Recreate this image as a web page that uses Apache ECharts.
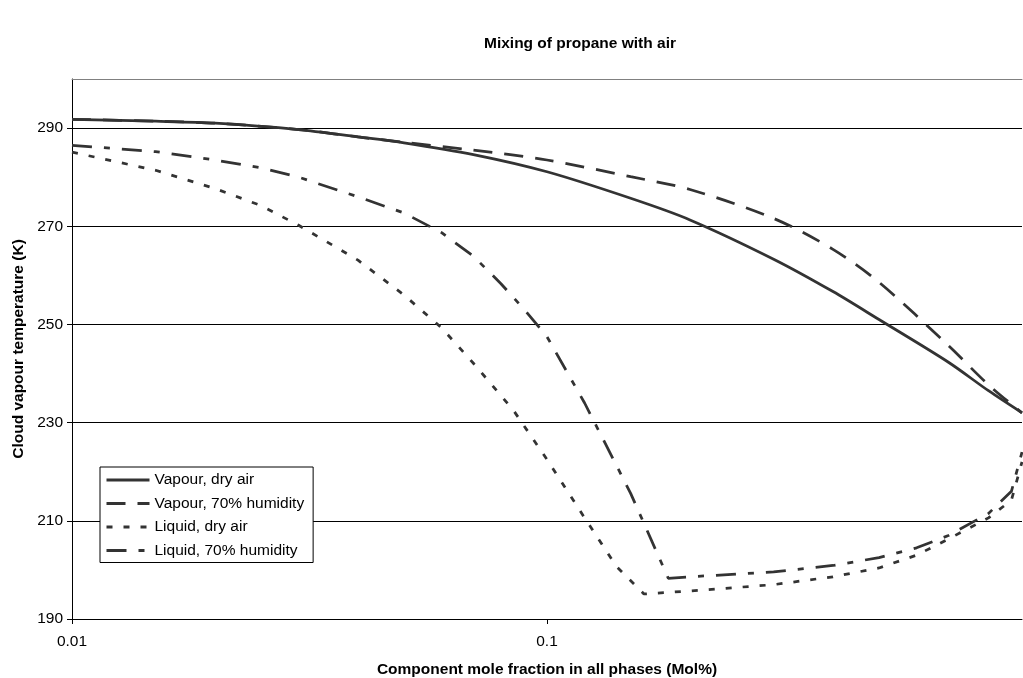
<!DOCTYPE html>
<html>
<head>
<meta charset="utf-8">
<script src="https://cdn.jsdelivr.net/npm/echarts@6/dist/echarts.min.js"></script>
<style>html,body{margin:0;padding:0;background:#fff}#c{width:1023px;height:678px}</style>
</head>
<body>
<div id="c"></div>
<script>
const titleText = "Mixing of propane with air";
const xAxisName = "Component mole fraction in all phases (Mol%)";
const yAxisName = "Cloud vapour temperature (K)";
const seriesNames = ["Vapour, dry air", "Vapour, 70% humidity", "Liquid, dry air", "Liquid, 70% humidity"];

const vapourX        = [0.01, 0.015, 0.02, 0.03, 0.04, 0.05, 0.07, 0.1, 0.15, 0.2, 0.3, 0.4, 0.5, 0.7, 0.85, 1.0];
const vapourDryY     = [291.8, 291.4, 291.0, 289.7, 288.2, 287.0, 284.6, 281.1, 275.7, 271.3, 263.3, 256.7, 251.0, 242.3, 236.5, 232.0];
const vapourHumidY   = [291.8, 291.4, 291.0, 289.7, 288.2, 287.1, 285.5, 283.5, 280.1, 277.5, 271.6, 265.3, 258.6, 245.7, 237.7, 232.0];

const liquidDryX     = [0.01, 0.015, 0.02, 0.025, 0.03, 0.04, 0.05, 0.06, 0.07, 0.085, 0.1, 0.12, 0.14, 0.16, 0.2, 0.3, 0.4, 0.5, 0.6, 0.7, 0.85, 0.95, 1.0];
const liquidDryY     = [285.1, 281.4, 277.7, 274.2, 270.2, 263.1, 256.0, 249.3, 242.1, 232.5, 222.5, 210.6, 200.7, 195.1, 195.7, 197.0, 198.6, 200.4, 203.0, 206.3, 210.6, 214.2, 222.0];

const liquidHumidX   = [0.01, 0.015, 0.02, 0.025, 0.03, 0.04, 0.05, 0.06, 0.07, 0.08, 0.09, 0.1, 0.12, 0.15, 0.18, 0.2, 0.3, 0.4, 0.5, 0.6, 0.7, 0.85, 0.95, 1.0];
const liquidHumidY   = [286.5, 285.2, 283.5, 281.9, 280.0, 276.0, 272.7, 268.7, 263.9, 258.3, 252.8, 247.5, 234.0, 215.6, 198.3, 198.6, 199.6, 200.9, 202.5, 204.5, 207.0, 211.5, 216.0, 224.0];

const yTicks = [190, 210, 230, 250, 270, 290];
const xTicks = [0.01, 0.1];

function zip(xs, ys) { return xs.map((x, i) => [x, ys[i]]); }

const lineColor = '#333333';
const font = 'Liberation Sans, Arial, sans-serif';

const chart = echarts.init(document.getElementById('c'), null, {renderer: 'canvas'});
chart.setOption({
  backgroundColor: '#ffffff',
  animation: false,
  title: {
    text: titleText,
    left: 575, top: 31, textAlign: 'center',
    textStyle: {fontFamily: font, fontSize: 15.5, fontWeight: 'bold', color: '#000'}
  },
  grid: {left: 72, right: 1, top: 79, bottom: 59, containLabel: false, outerBoundsMode: 'none'},
  legend: {
    orient: 'vertical',
    left: 100, top: 467,
    width: 214,
    itemWidth: 43, itemHeight: 14, itemGap: 7.5,
    padding: [5, 9, 4, 5],
    borderColor: '#000', borderWidth: 1,
    backgroundColor: '#fff',
    itemStyle: {opacity: 0},
    lineStyle: {width: 3},
    textStyle: {fontFamily: font, fontSize: 15.5, color: '#000', lineHeight: 14},
    data: seriesNames
  },
  xAxis: [{
    type: 'log', logBase: 10, min: 0.01, max: 1,
    name: xAxisName, nameLocation: 'middle', nameGap: 43,
    nameTextStyle: {fontFamily: font, fontSize: 15.5, fontWeight: 'bold', color: '#000'},
    axisLine: {show: true, lineStyle: {color: '#000', width: 1}},
    axisTick: {show: true, length: 5, inside: false, lineStyle: {color: '#000'},
      customValues: xTicks},
    axisLabel: {
      fontFamily: font, fontSize: 15.5, color: '#000', margin: 15,
      customValues: xTicks,
      formatter: function (v) { return xTicks.some(t => Math.abs(t - v) < 1e-9) ? String(Math.round(v * 100) / 100) : ''; }
    },
    splitLine: {show: false}, minorTick: {show: false}
  }, {
    type: 'log', logBase: 10, min: 0.01, max: 1, position: 'top',
    axisLine: {show: true, lineStyle: {color: '#808080', width: 1}},
    axisTick: {show: false}, axisLabel: {show: false}, splitLine: {show: false}
  }],
  yAxis: {
    type: 'value', min: 190, max: 300, interval: 20,
    name: yAxisName, nameLocation: 'middle', nameGap: 41, nameRotate: 90,
    nameTextStyle: {fontFamily: font, fontSize: 15.5, fontWeight: 'bold', color: '#000'},
    axisLine: {show: true, lineStyle: {color: '#000', width: 1}},
    axisTick: {show: true, length: 5, lineStyle: {color: '#000'}, customValues: yTicks},
    axisLabel: {fontFamily: font, fontSize: 15.5, color: '#000', margin: 9, customValues: yTicks,
      formatter: function (v) { return yTicks.indexOf(v) >= 0 ? String(v) : ''; }},
    splitLine: {show: true, lineStyle: {color: '#000', width: 1}},
    customValues: yTicks
  },
  series: [
    {name: seriesNames[0], type: 'line', xAxisIndex: 0, data: zip(vapourX, vapourDryY),
     symbol: 'none', smooth: 0.3, lineStyle: {color: lineColor, width: 2.75, type: 'solid'}, itemStyle: {color: lineColor}},
    {name: seriesNames[1], type: 'line', xAxisIndex: 0, data: zip(vapourX, vapourHumidY),
     symbol: 'none', smooth: 0.3, lineStyle: {color: lineColor, width: 2.75, type: [19, 12]}, itemStyle: {color: lineColor}},
    {name: seriesNames[2], type: 'line', xAxisIndex: 0, data: zip(liquidDryX, liquidDryY),
     symbol: 'none', smooth: false, lineStyle: {color: lineColor, width: 2.75, type: [6, 11]}, itemStyle: {color: lineColor}},
    {name: seriesNames[3], type: 'line', xAxisIndex: 0, data: zip(liquidHumidX, liquidHumidY),
     symbol: 'none', smooth: false, lineStyle: {color: lineColor, width: 2.75, type: [20, 12, 6, 12]}, itemStyle: {color: lineColor}}
  ]
});
</script>
</body>
</html>
